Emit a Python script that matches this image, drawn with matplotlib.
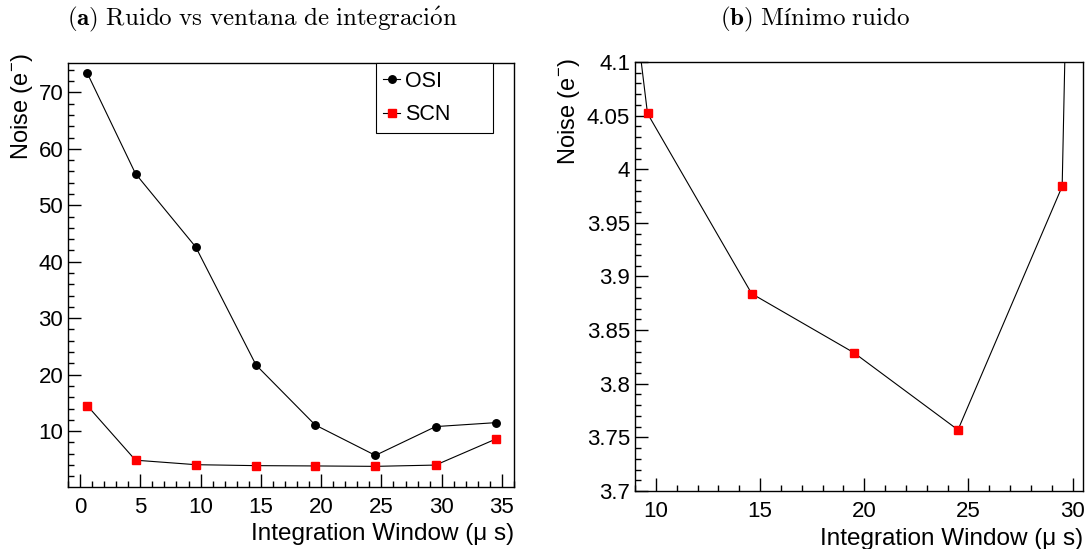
import matplotlib
matplotlib.use("Agg")
import matplotlib.pyplot as plt
from matplotlib.ticker import MultipleLocator, FixedLocator, FuncFormatter

# integration window (us) and noise (e-) for both readout schemes
window = [0.6, 4.6, 9.6, 14.6, 19.5, 24.5, 29.5, 34.5]
noise_osi = [73.4, 55.6, 42.6, 21.7, 11.1, 5.7, 10.8, 11.5]
noise_scn = [14.5, 4.85, 4.052, 3.884, 3.829, 3.757, 3.984, 8.6]

left_yticks = [10, 20, 30, 40, 50, 60, 70]
right_yticks = [3.7, 3.75, 3.8, 3.85, 3.9, 3.95, 4.0, 4.05, 4.1]

plt.rcParams["font.family"] = ["Liberation Sans", "DejaVu Sans"]
plt.rcParams["mathtext.fontset"] = "custom"
plt.rcParams["mathtext.rm"] = "Liberation Sans"

W, H = 1089, 549
fig = plt.figure(figsize=(W / 100, H / 100), dpi=100)


def px_axes(x0, y0, x1, y1):
    return fig.add_axes([x0 / W, 1 - y1 / H, (x1 - x0) / W, (y1 - y0) / H])


def root_style(ax):
    for s in ax.spines.values():
        s.set_linewidth(1.0)
        s.set_color("black")
    ax.tick_params(which="both", direction="in", top=False, right=False,
                   labelsize=16)
    ax.tick_params(axis="x", pad=7)
    ax.tick_params(axis="y", pad=3.5)
    ax.tick_params(which="major", length=9.5, width=1.0)
    ax.tick_params(which="minor", length=4.2, width=1.0)
    ax.yaxis.set_major_formatter(FuncFormatter(lambda v, p: "%g" % round(v, 3)))


# (a) full range
ax1 = px_axes(68, 63, 514, 487)
ax1.plot(window, noise_osi, color="black", lw=0.8, marker="o", ms=5.4,
         mfc="black", mec="black", label="OSI")
ax1.plot(window, noise_scn, color="black", lw=0.8, marker="s", ms=5.2,
         mfc="red", mec="red", label="SCN")
ax1.set_xlim(-1, 36)
ax1.set_ylim(0.1, 75.2)
ax1.xaxis.set_major_locator(MultipleLocator(5))
ax1.xaxis.set_minor_locator(MultipleLocator(1))
ax1.yaxis.set_major_locator(FixedLocator(left_yticks))
ax1.yaxis.set_minor_locator(MultipleLocator(2))
root_style(ax1)
ax1.set_xlabel("Integration Window (\u03bc s)", fontsize=17.5, ha="right", va="top")
ax1.xaxis.set_label_coords(1.0, -0.085)
ax1.set_ylabel("Noise (e$^{-}$)", fontsize=17, ha="right", va="bottom")
ax1.yaxis.set_label_coords(-0.074, 1.024)
leg = ax1.legend(loc="upper left", bbox_to_anchor=(0.69, 0.0, 0.263, 1.0),
                 mode="expand", fontsize=15.5, frameon=True, fancybox=False,
                 edgecolor="black", framealpha=1, borderaxespad=0,
                 borderpad=0.35, labelspacing=0.6, handlelength=0.8,
                 handletextpad=0.2)
leg.get_frame().set_linewidth(0.8)

# (b) zoom on the SCN minimum
ax2 = px_axes(635, 62, 1083, 491)
ax2.plot(window, noise_scn, color="black", lw=0.8, marker="s", ms=5.2,
         mfc="red", mec="red")
ax2.set_xlim(9, 30.5)
ax2.set_ylim(3.7, 4.1)
ax2.xaxis.set_major_locator(MultipleLocator(5))
ax2.xaxis.set_minor_locator(MultipleLocator(1))
ax2.yaxis.set_major_locator(FixedLocator(right_yticks))
ax2.yaxis.set_minor_locator(MultipleLocator(0.01))
root_style(ax2)
ax2.set_xlabel("Integration Window (\u03bc s)", fontsize=17.5, ha="right", va="top")
ax2.xaxis.set_label_coords(1.0, -0.086)
ax2.set_ylabel("Noise (e$^{-}$)", fontsize=17, ha="right", va="bottom")
ax2.yaxis.set_label_coords(-0.118, 1.01)

# subfigure captions
fig.text(262 / W, 1 - 25 / H,
         r"$\mathbf{(a)}\ \mathrm{Ruido\ vs\ ventana\ de\ integraci\acute{o}n}$",
         ha="center", va="baseline", fontsize=18, math_fontfamily="cm")
fig.text(815 / W, 1 - 25 / H,
         r"$\mathbf{(b)}\ \mathrm{Mínimo\ ruido}$",
         ha="center", va="baseline", fontsize=18, math_fontfamily="cm")

fig.savefig("out.png", dpi=100)
